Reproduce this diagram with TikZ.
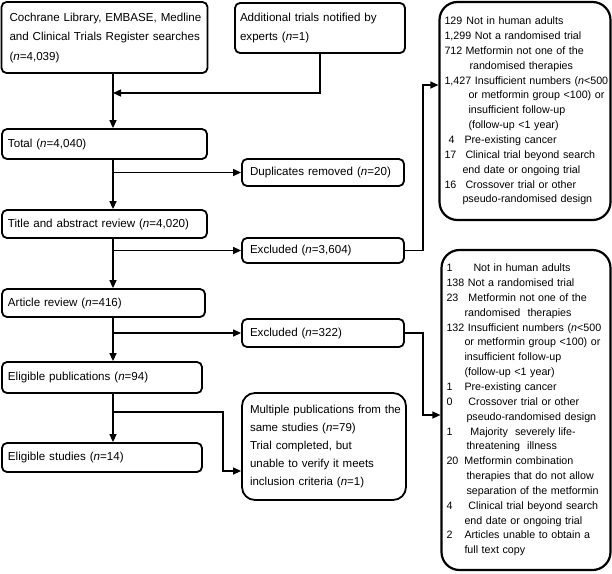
\documentclass[tikz,border=0pt]{standalone}
\usepackage{fontspec}
\setmainfont{Liberation Sans}
\usetikzlibrary{arrows.meta}
\newcommand{\rw}[1]{\mbox{#1}}
\begin{document}
\begin{tikzpicture}[x=1pt,y=-1pt,
  sbox/.style={draw, line width=1.8pt, rounded corners=5pt, align=left, inner xsep=6pt, inner ysep=0pt, font=\fontsize{11.6}{19.5}\selectfont},
  bigbox/.style={draw, line width=2.2pt, rounded corners=18pt, align=left, inner xsep=5pt, inner ysep=0pt, font=\fontsize{10.7}{14.85}\selectfont},
  conn/.style={line width=1.3pt},
  arr/.style={conn, -{Triangle[length=8pt,width=7pt]}}
]
\useasboundingbox (0,0) rectangle (612,573);

% left column
\node[sbox, inner xsep=8pt, text width=190pt, minimum height=71pt] (cochrane) at (104.5,37.5)
  {\rw{Cochrane Library, EMBASE, Medline}\\\rw{and Clinical Trials Register searches}\\(\textit{n}=4,039)};
\node[sbox, inner xsep=5pt, text width=160pt, minimum height=50pt] (additional) at (320,28)
  {\rw{Additional trials notified by}\\\rw{experts (\textit{n}=1)}};
\node[sbox, inner xsep=6pt, text width=193pt, minimum height=30pt] (total) at (104.5,144)
  {\rw{Total (\textit{n}=4,040)}};
\node[sbox, inner xsep=8pt, text width=146pt, minimum height=27pt] (dup) at (323,172.5)
  {\rw{Duplicates removed (\textit{n}=20)}};
\node[sbox, inner xsep=6pt, text width=193pt, minimum height=28pt] (title) at (104.5,224)
  {\rw{Title and abstract review (\textit{n}=4,020)}};
\node[sbox, inner xsep=8pt, text width=146pt, minimum height=25pt] (exc1) at (323,250.5)
  {\rw{Excluded (\textit{n}=3,604)}};
\node[sbox, inner xsep=6pt, text width=191pt, minimum height=28pt] (article) at (103.5,303)
  {\rw{Article review (\textit{n}=416)}};
\node[sbox, inner xsep=8pt, text width=146pt, minimum height=28pt] (exc2) at (323,333)
  {\rw{Excluded (\textit{n}=322)}};
\node[sbox, inner xsep=6pt, text width=188pt, minimum height=31pt] (elpub) at (102,377.5)
  {\rw{Eligible publications (\textit{n}=94)}};
\node[sbox, inner xsep=6pt, text width=188pt, minimum height=29pt] (elstud) at (102,457.5)
  {\rw{Eligible studies (\textit{n}=14)}};
\node[sbox, rounded corners=13pt, inner xsep=8pt, text width=148pt, minimum height=107pt,
  font=\fontsize{11.5}{18}\selectfont] (multi) at (324,446.5)
  {\rw{Multiple publications from the}\\\rw{same studies (\textit{n}=79)}\\\rw{Trial completed, but}\\\rw{unable to verify it meets}\\\rw{inclusion criteria (\textit{n}=1)}};

% right exclusion lists
\node[bigbox, text width=161pt, minimum height=218pt] (big1) at (525,111)
  {\rw{\makebox[22pt][l]{129}Not in human adults}\\
   \rw{1,299 Not a randomised trial}\\
   \rw{\makebox[21pt][l]{712}Metformin not one of the}\\
   \rw{\hspace*{25pt}randomised therapies}\\
   \rw{1,427 Insufficient numbers (\textit{n}<500}\\
   \rw{\hspace*{24pt}or metformin group <100) or}\\
   \rw{\hspace*{24pt}insufficient follow-up}\\
   \rw{\hspace*{24pt}(follow-up <1 year)}\\
   \rw{\hspace*{4pt}\makebox[16pt][l]{4}Pre-existing cancer}\\
   \rw{\makebox[21pt][l]{17}Clinical trial beyond search}\\
   \rw{\hspace*{18pt}end date or ongoing trial}\\
   \rw{\makebox[21pt][l]{16}Crossover trial or other}\\
   \rw{\hspace*{18pt}pseudo-randomised design}};
\node[bigbox, text width=159pt, minimum height=320pt] (big2) at (526,410)
  {\rw{\makebox[27pt][l]{1}Not in human adults}\\
   \rw{138 Not a randomised trial}\\
   \rw{\makebox[22pt][l]{23}Metformin not one of the}\\
   \rw{\hspace*{18pt}randomised\ \ therapies}\\
   \rw{132 Insufficient numbers (\textit{n}<500}\\
   \rw{\hspace*{18pt}or metformin group <100) or}\\
   \rw{\hspace*{18pt}insufficient follow-up}\\
   \rw{\hspace*{18pt}(follow-up <1 year)}\\
   \rw{\makebox[18pt][l]{1}Pre-existing cancer}\\
   \rw{\makebox[22pt][l]{0}Crossover trial or other}\\
   \rw{\hspace*{20pt}pseudo-randomised design}\\
   \rw{\makebox[24pt][l]{1}Majority\ \ severely life-}\\
   \rw{\hspace*{20pt}threatening\ \ illness}\\
   \rw{\makebox[18pt][l]{20}Metformin combination}\\
   \rw{\hspace*{20pt}therapies that do not allow}\\
   \rw{\hspace*{20pt}separation of the metformin}\\
   \rw{\makebox[22pt][l]{4}Clinical trial beyond search}\\
   \rw{\hspace*{18pt}end date or ongoing trial}\\
   \rw{\makebox[18pt][l]{2}Articles unable to obtain a}\\
   \rw{\hspace*{18pt}full text copy}};

% connectors
\coordinate (t) at (113,0);
\coordinate (j1) at (113,93);
\coordinate (m1) at (223,412);
\coordinate (m2) at (223,471);
\coordinate (r1) at (423,85);
\coordinate (r2) at (423,415);

\draw[arr] (cochrane.south -| t) -- (total.north -| t);
\draw[arr] (additional.south) |- (j1);
\draw[arr] (total.south -| t) -- (title.north -| t);
\draw[arr] (t |- dup.west) -- (dup.west);
\draw[arr] (title.south -| t) -- (article.north -| t);
\draw[arr] (t |- exc1.west) -- (exc1.west);
\draw[arr] (article.south -| t) -- (elpub.north -| t);
\draw[arr] (t |- exc2.west) -- (exc2.west);
\draw[arr] (elpub.south -| t) -- (elstud.north -| t);
\draw[arr] (t |- m1) -- (m1) -- (m2) -- (m2 -| multi.west);
\draw[arr] (exc1.east) -| (r1) -- (r1 -| big1.west);
\draw[arr] (exc2.east) -| (r2) -- (r2 -| big2.west);
\end{tikzpicture}
\end{document}
